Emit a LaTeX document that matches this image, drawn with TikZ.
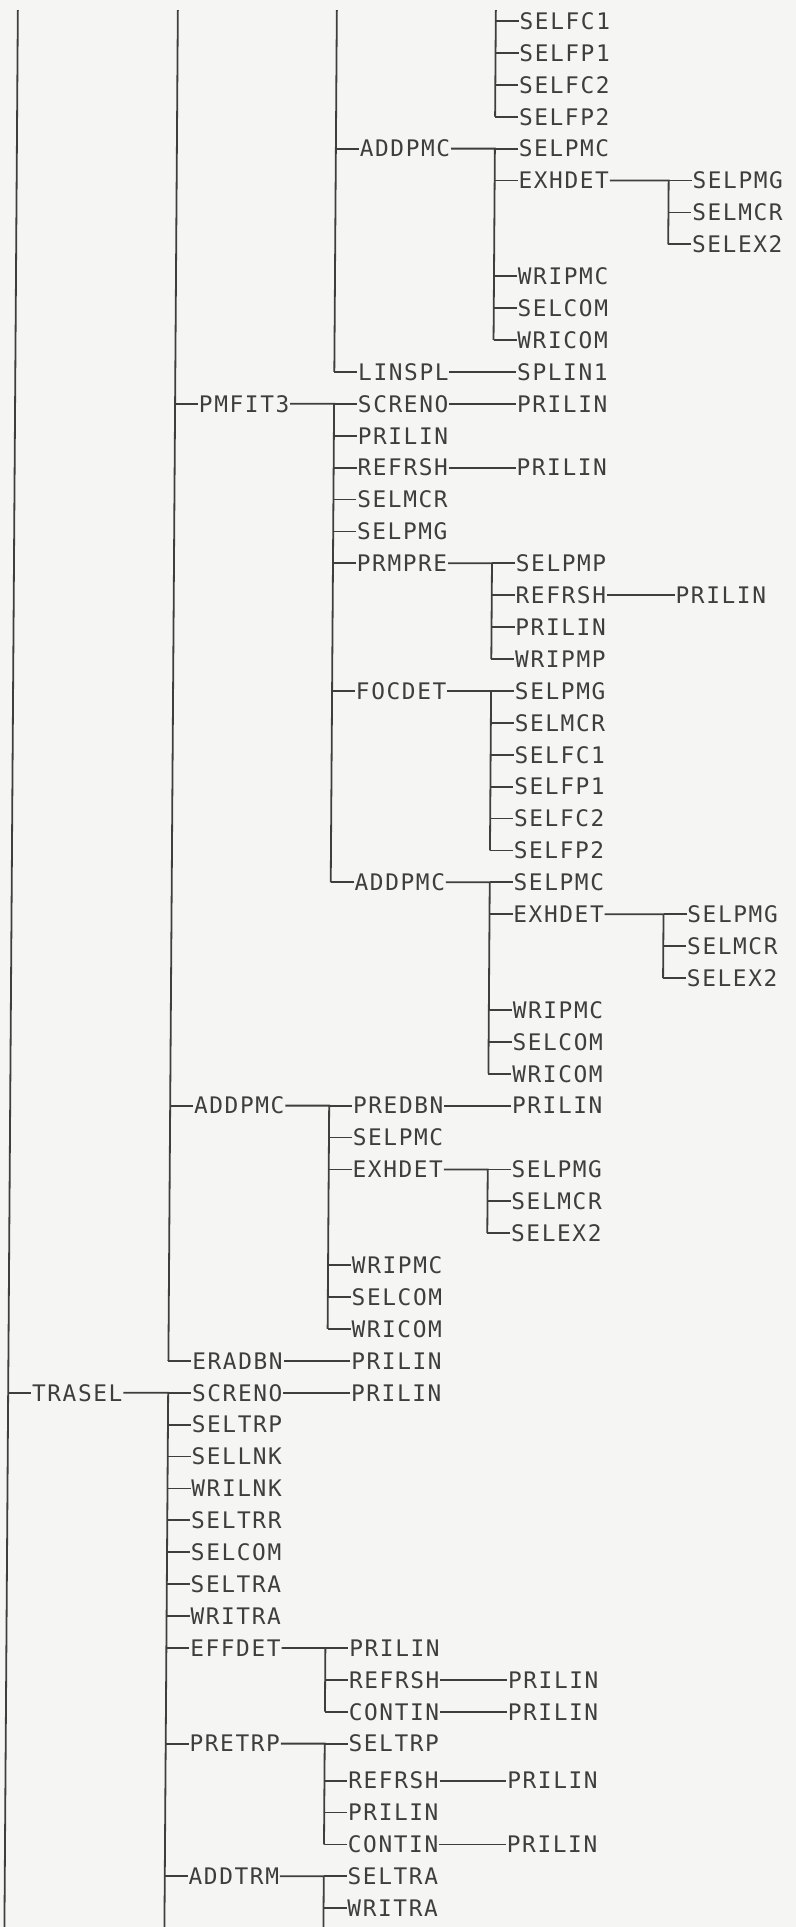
\documentclass[tikz,border=0pt]{standalone}
\usepackage{fontspec}
\newfontfamily\plotfont[LetterSpace=7]{DejaVu Sans Mono}
\definecolor{paper}{RGB}{245,245,243}
\definecolor{ink}{RGB}{62,62,62}
\tikzset{
  rtn/.style={anchor=west, inner sep=0pt, text height=8.3pt, text depth=0pt,
    font=\plotfont\fontsize{11.4pt}{11.4pt}\selectfont}
}

\begin{document}
\begin{tikzpicture}[x=0.5pt, y=-15.95pt]
			\useasboundingbox (0pt,0pt) rectangle (398pt,-963.5pt);
			\fill[paper] (0pt,0pt) rectangle (398pt,-963.5pt);
			\begin{scope}[yshift=5.45pt, xslant=0.007, ink, line width=0.9pt]
			% lines coming in from the sheet above
			\coordinate (top0) at (18,0.66);
			\coordinate (top1) at (178,0.66);
			\coordinate (top2) at (337,0.66);
			\coordinate (top3) at (496,0.66);
			\coordinate (bot0) at (18,60.8);
			\coordinate (bot1) at (178,60.8);
			\coordinate (bot2) at (337,60.8);
			% routines
			\node[rtn] (selfc1A) at (519,1) {SELFC1};
			\node[rtn] (selfp1A) at (519,2) {SELFP1};
			\node[rtn] (selfc2A) at (519,3) {SELFC2};
			\node[rtn] (selfp2A) at (519,4) {SELFP2};
			\node[rtn] (addpmcA) at (360,5) {ADDPMC};
			\node[rtn] (selpmcA) at (519,5) {SELPMC};
			\node[rtn] (exhdetA) at (519,6) {EXHDET};
			\node[rtn] (selpmgA) at (693,6) {SELPMG};
			\node[rtn] (selmcrA) at (693,7) {SELMCR};
			\node[rtn] (selex2A) at (693,8) {SELEX2};
			\node[rtn] (wripmcA) at (519,9) {WRIPMC};
			\node[rtn] (selcomA) at (519,10) {SELCOM};
			\node[rtn] (wricomA) at (519,11) {WRICOM};
			\node[rtn] (linspl) at (360,12) {LINSPL};
			\node[rtn] (splin1) at (519,12) {SPLIN1};
			\node[rtn] (pmfit3) at (201,13) {PMFIT3};
			\node[rtn] (screnoA) at (360,13) {SCRENO};
			\node[rtn] (prilinA) at (519,13) {PRILIN};
			\node[rtn] (prilinB) at (360,14) {PRILIN};
			\node[rtn] (refrshA) at (360,15) {REFRSH};
			\node[rtn] (prilinC) at (519,15) {PRILIN};
			\node[rtn] (selmcrB) at (360,16) {SELMCR};
			\node[rtn] (selpmgB) at (360,17) {SELPMG};
			\node[rtn] (prmpre) at (360,18) {PRMPRE};
			\node[rtn] (selpmp) at (519,18) {SELPMP};
			\node[rtn] (refrshB) at (519,19) {REFRSH};
			\node[rtn] (prilinD) at (679,19) {PRILIN};
			\node[rtn] (prilinE) at (519,20) {PRILIN};
			\node[rtn] (wripmp) at (519,21) {WRIPMP};
			\node[rtn] (focdet) at (360,22) {FOCDET};
			\node[rtn] (selpmgC) at (519,22) {SELPMG};
			\node[rtn] (selmcrC) at (519,23) {SELMCR};
			\node[rtn] (selfc1B) at (519,24) {SELFC1};
			\node[rtn] (selfp1B) at (519,25) {SELFP1};
			\node[rtn] (selfc2B) at (519,26) {SELFC2};
			\node[rtn] (selfp2B) at (519,27) {SELFP2};
			\node[rtn] (addpmcB) at (360,28) {ADDPMC};
			\node[rtn] (selpmcB) at (519,28) {SELPMC};
			\node[rtn] (exhdetB) at (519,29) {EXHDET};
			\node[rtn] (selpmgD) at (693,29) {SELPMG};
			\node[rtn] (selmcrD) at (693,30) {SELMCR};
			\node[rtn] (selex2B) at (693,31) {SELEX2};
			\node[rtn] (wripmcB) at (519,32) {WRIPMC};
			\node[rtn] (selcomB) at (519,33) {SELCOM};
			\node[rtn] (wricomB) at (519,34) {WRICOM};
			\node[rtn] (addpmcC) at (201,35) {ADDPMC};
			\node[rtn] (predbn) at (360,35) {PREDBN};
			\node[rtn] (prilinF) at (519,35) {PRILIN};
			\node[rtn] (selpmcC) at (360,36) {SELPMC};
			\node[rtn] (exhdetC) at (360,37) {EXHDET};
			\node[rtn] (selpmgE) at (519,37) {SELPMG};
			\node[rtn] (selmcrE) at (519,38) {SELMCR};
			\node[rtn] (selex2C) at (519,39) {SELEX2};
			\node[rtn] (wripmcC) at (360,40) {WRIPMC};
			\node[rtn] (selcomC) at (360,41) {SELCOM};
			\node[rtn] (wricomC) at (360,42) {WRICOM};
			\node[rtn] (eradbn) at (201,43) {ERADBN};
			\node[rtn] (prilinG) at (360,43) {PRILIN};
			\node[rtn] (trasel) at (41,44) {TRASEL};
			\node[rtn] (screnoB) at (201,44) {SCRENO};
			\node[rtn] (prilinH) at (360,44) {PRILIN};
			\node[rtn] (seltrpA) at (201,45) {SELTRP};
			\node[rtn] (sellnk) at (201,46) {SELLNK};
			\node[rtn] (wrilnk) at (201,47) {WRILNK};
			\node[rtn] (seltrr) at (201,48) {SELTRR};
			\node[rtn] (selcomD) at (201,49) {SELCOM};
			\node[rtn] (seltraA) at (201,50) {SELTRA};
			\node[rtn] (writraA) at (201,51) {WRITRA};
			\node[rtn] (effdet) at (201,52) {EFFDET};
			\node[rtn] (prilinI) at (360,52) {PRILIN};
			\node[rtn] (refrshC) at (360,53) {REFRSH};
			\node[rtn] (prilinJ) at (519,53) {PRILIN};
			\node[rtn] (continA) at (360,54) {CONTIN};
			\node[rtn] (prilinK) at (519,54) {PRILIN};
			\node[rtn] (pretrp) at (201,55) {PRETRP};
			\node[rtn] (seltrpB) at (360,55) {SELTRP};
			\node[rtn] (refrshD) at (360,56.16) {REFRSH};
			\node[rtn] (prilinL) at (519,56.16) {PRILIN};
			\node[rtn] (prilinM) at (360,57.16) {PRILIN};
			\node[rtn] (continB) at (360,58.16) {CONTIN};
			\node[rtn] (prilinN) at (519,58.16) {PRILIN};
			\node[rtn] (addtrm) at (201,59.16) {ADDTRM};
			\node[rtn] (seltraB) at (360,59.16) {SELTRA};
			\node[rtn] (writraB) at (360,60.16) {WRITRA};
			% calls
			\draw (top0) -- (bot0);
			\draw ([xshift=-11.5pt]trasel.west) -- (trasel.west);
			\draw (top1) -- ([xshift=-11.5pt]eradbn.west);
			\foreach \k in {pmfit3,addpmcC,eradbn} \draw ([xshift=-11.5pt]\k.west) -- (\k.west);
			\draw (top2) -- ([xshift=-11.5pt]linspl.west);
			\foreach \k in {addpmcA,linspl} \draw ([xshift=-11.5pt]\k.west) -- (\k.west);
			\draw (top3) -- ([xshift=-11.5pt]selfp2A.west);
			\foreach \k in {selfc1A,selfp1A,selfc2A,selfp2A} \draw ([xshift=-11.5pt]\k.west) -- (\k.west);
			\draw (addpmcA.east) -- ([xshift=-11.5pt]selpmcA.west) -- ([xshift=-11.5pt]wricomA.west);
			\foreach \k in {selpmcA,exhdetA,wripmcA,selcomA,wricomA} \draw ([xshift=-11.5pt]\k.west) -- (\k.west);
			\draw (exhdetA.east) -- ([xshift=-11.5pt]selpmgA.west) -- ([xshift=-11.5pt]selex2A.west);
			\foreach \k in {selpmgA,selmcrA,selex2A} \draw ([xshift=-11.5pt]\k.west) -- (\k.west);
			\draw (linspl.east) -- (splin1.west);
			\draw (pmfit3.east) -- ([xshift=-11.5pt]screnoA.west) -- ([xshift=-11.5pt]addpmcB.west);
			\foreach \k in {screnoA,prilinB,refrshA,selmcrB,selpmgB,prmpre,focdet,addpmcB} \draw ([xshift=-11.5pt]\k.west) -- (\k.west);
			\draw (screnoA.east) -- (prilinA.west);
			\draw (refrshA.east) -- (prilinC.west);
			\draw (prmpre.east) -- ([xshift=-11.5pt]selpmp.west) -- ([xshift=-11.5pt]wripmp.west);
			\foreach \k in {selpmp,refrshB,prilinE,wripmp} \draw ([xshift=-11.5pt]\k.west) -- (\k.west);
			\draw (refrshB.east) -- (prilinD.west);
			\draw (focdet.east) -- ([xshift=-11.5pt]selpmgC.west) -- ([xshift=-11.5pt]selfp2B.west);
			\foreach \k in {selpmgC,selmcrC,selfc1B,selfp1B,selfc2B,selfp2B} \draw ([xshift=-11.5pt]\k.west) -- (\k.west);
			\draw (addpmcB.east) -- ([xshift=-11.5pt]selpmcB.west) -- ([xshift=-11.5pt]wricomB.west);
			\foreach \k in {selpmcB,exhdetB,wripmcB,selcomB,wricomB} \draw ([xshift=-11.5pt]\k.west) -- (\k.west);
			\draw (exhdetB.east) -- ([xshift=-11.5pt]selpmgD.west) -- ([xshift=-11.5pt]selex2B.west);
			\foreach \k in {selpmgD,selmcrD,selex2B} \draw ([xshift=-11.5pt]\k.west) -- (\k.west);
			\draw (addpmcC.east) -- ([xshift=-11.5pt]predbn.west) -- ([xshift=-11.5pt]wricomC.west);
			\foreach \k in {predbn,selpmcC,exhdetC,wripmcC,selcomC,wricomC} \draw ([xshift=-11.5pt]\k.west) -- (\k.west);
			\draw (predbn.east) -- (prilinF.west);
			\draw (exhdetC.east) -- ([xshift=-11.5pt]selpmgE.west) -- ([xshift=-11.5pt]selex2C.west);
			\foreach \k in {selpmgE,selmcrE,selex2C} \draw ([xshift=-11.5pt]\k.west) -- (\k.west);
			\draw (eradbn.east) -- (prilinG.west);
			\draw (trasel.east) -- ([xshift=-11.5pt]screnoB.west) -- (bot1);
			\foreach \k in {screnoB,seltrpA,sellnk,wrilnk,seltrr,selcomD,seltraA,writraA,effdet,pretrp,addtrm} \draw ([xshift=-11.5pt]\k.west) -- (\k.west);
			\draw (screnoB.east) -- (prilinH.west);
			\draw (effdet.east) -- ([xshift=-11.5pt]prilinI.west) -- ([xshift=-11.5pt]continA.west);
			\foreach \k in {prilinI,refrshC,continA} \draw ([xshift=-11.5pt]\k.west) -- (\k.west);
			\draw (refrshC.east) -- (prilinJ.west);
			\draw (continA.east) -- (prilinK.west);
			\draw (pretrp.east) -- ([xshift=-11.5pt]seltrpB.west) -- ([xshift=-11.5pt]continB.west);
			\foreach \k in {seltrpB,refrshD,prilinM,continB} \draw ([xshift=-11.5pt]\k.west) -- (\k.west);
			\draw (refrshD.east) -- (prilinL.west);
			\draw (continB.east) -- (prilinN.west);
			\draw (addtrm.east) -- ([xshift=-11.5pt]seltraB.west) -- (bot2);
			\foreach \k in {seltraB,writraB} \draw ([xshift=-11.5pt]\k.west) -- (\k.west);
			\end{scope}
			\end{tikzpicture}
\end{document}
